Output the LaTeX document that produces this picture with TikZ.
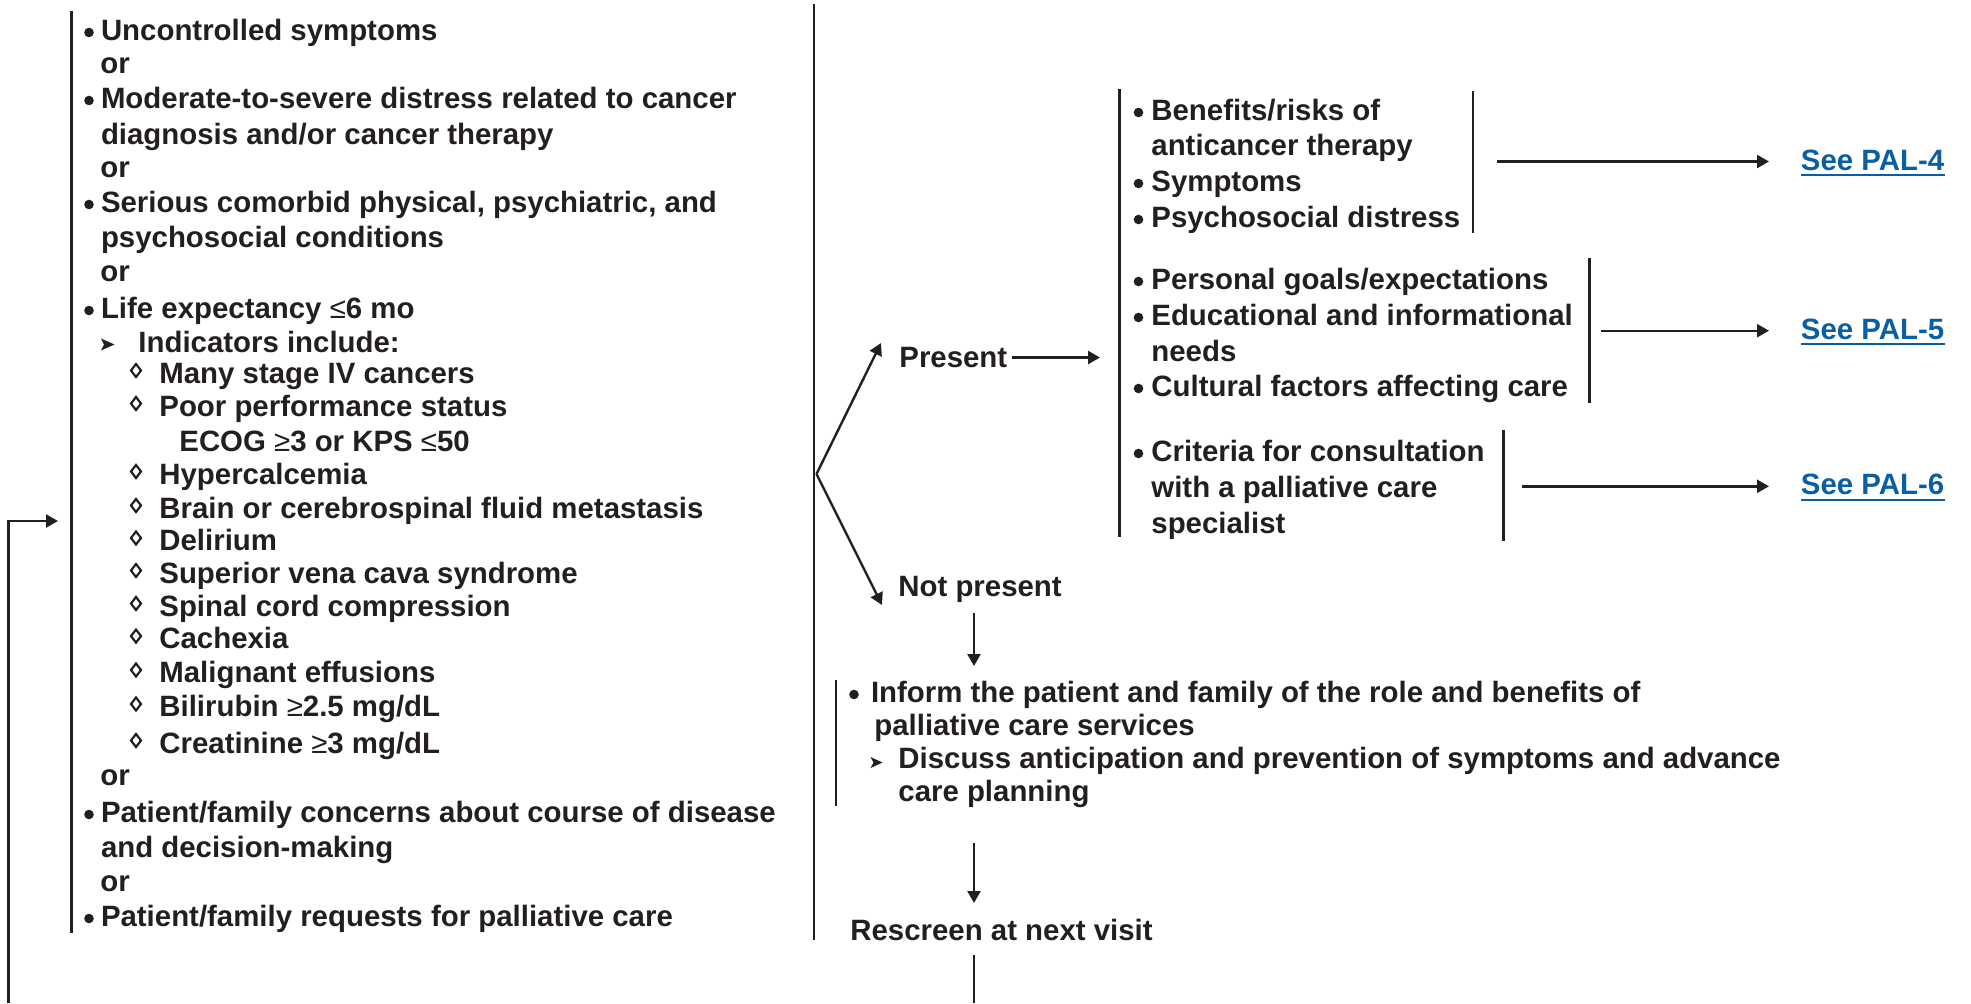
\documentclass[tikz,border=0pt]{standalone}
\usepackage{fontspec}
\setmainfont{Liberation Sans}
\usetikzlibrary{arrows.meta}
\definecolor{ink}{RGB}{35,31,32}
\definecolor{linkblue}{RGB}{10,94,162}
\newcommand\lte{{\mdseries ≤}}
\newcommand\gte{{\mdseries ≥}}
\newcommand\bul[2]{\fill[ink] (#1,#2-7.5) circle (2.4pt);}
\newcommand\dia[2]{\draw[ink,line width=1.1pt,line join=miter] (#1,#2-19) -- (#1+5,#2-12.5) -- (#1,#2-6) -- (#1-5,#2-12.5) -- cycle;}
\newcommand\tri[2]{\fill[ink] (#1,#2-13.5) -- (#1+13.5,#2-7.5) -- (#1,#2-1.5) -- (#1+3,#2-7.5) -- cycle;}
\begin{document}
\begin{tikzpicture}[x=0.5pt,y=-0.5pt,
  txt/.style={anchor=base west,inner sep=0pt,text=ink,font=\fontsize{14.7}{17}\selectfont\bfseries},
  lnk/.style={txt,text=linkblue},
  bar/.style={draw=ink,line width=1.2pt},
  arr/.style={draw=ink,line width=1.2pt,-{Triangle[length=6pt,width=6.5pt]}},
  uline/.style={draw=linkblue,line width=1pt}]
\useasboundingbox (0,0) rectangle (1971,1003);

% ---------- left criteria block ----------
\draw[bar] (71.5,11) -- (71.5,933);
\node[txt] (c1) at (100.6,40) {Uncontrolled symptoms}; \bul{89}{40}
\node[txt] (o1) at (100,73) {or};
\node[txt] (c2) at (100.6,108) {Moderate-to-severe distress related to cancer}; \bul{89}{108}
\node[txt] (c2b) at (100.6,144.5) {diagnosis and/or cancer therapy};
\node[txt] (o2) at (100,177) {or};
\node[txt] (c3) at (100.6,212) {Serious comorbid physical, psychiatric, and}; \bul{89}{212}
\node[txt] (c3b) at (100.6,247.6) {psychosocial conditions};
\node[txt] (o3) at (100,281.5) {or};
\node[txt] (c4) at (100.6,318) {Life expectancy \lte6 mo}; \bul{89}{318}
\node[txt] (ind) at (138,352) {Indicators include:}; \tri{101}{352}
\node[txt] (i1) at (159,383) {Many stage IV cancers}; \dia{136}{383}
\node[txt] (i2) at (159,416) {Poor performance status}; \dia{136}{416}
\node[txt] (i2b) at (179,451) {ECOG \gte3 or KPS \lte50};
\node[txt] (i3) at (159,484) {Hypercalcemia}; \dia{136}{484}
\node[txt] (i4) at (159,518) {Brain or cerebrospinal fluid metastasis}; \dia{136}{518}
\node[txt] (i5) at (159,550.5) {Delirium}; \dia{136}{550.5}
\node[txt] (i6) at (159,583) {Superior vena cava syndrome}; \dia{136}{583}
\node[txt] (i7) at (159,616) {Spinal cord compression}; \dia{136}{616}
\node[txt] (i8) at (159,648.6) {Cachexia}; \dia{136}{648.6}
\node[txt] (i9) at (159,682.5) {Malignant effusions}; \dia{136}{682.5}
\node[txt] (i10) at (159,716.5) {Bilirubin \gte2.5 mg/dL}; \dia{136}{716.5}
\node[txt] (i11) at (159,753) {Creatinine \gte3 mg/dL}; \dia{136}{753}
\node[txt] (o4) at (100,785.6) {or};
\node[txt] (c5) at (100.6,822) {Patient/family concerns about course of disease}; \bul{89}{822}
\node[txt] (c5b) at (100.6,857) {and decision-making};
\node[txt] (o5) at (100,891) {or};
\node[txt] (c6) at (100.6,926) {Patient/family requests for palliative care}; \bul{89}{926}

% ---------- loop back ----------
\coordinate (loopbot) at (8.5,1003);
\coordinate (loopin) at (58,521);
\draw[arr] (loopbot) |- (loopin);

% ---------- middle column ----------
\draw[bar] (814,4) -- (814,940);
\coordinate (br) at (816.5,474);
\coordinate (tipP) at (881,343);
\coordinate (tipN) at (882,605);
\draw[arr] (br) -- (tipP);
\draw[arr] (br) -- (tipN);
\node[txt] (present) at (899,367) {Present};
\node[txt] (notpresent) at (898,596) {Not present};

\coordinate (npA) at (974,613);
\coordinate (npB) at (974,666);
\draw[arr] (npA) -- (npB);

\draw[bar] (836,680) -- (836,806);
\node[txt] (inform) at (870.6,702) {Inform the patient and family of the role and benefits of}; \bul{854}{702}
\node[txt] (informb) at (874,735) {palliative care services};
\node[txt] (discuss) at (898,768) {Discuss anticipation and prevention of symptoms and advance};
\fill[ink] (870.5,757) -- (882.5,762.5) -- (870.5,768) -- (873.5,762.5) -- cycle;
\node[txt] (discussb) at (898,801) {care planning};

\coordinate (inA) at (974,843);
\coordinate (inB) at (974,903);
\draw[arr] (inA) -- (inB);
\node[txt] (rescreen) at (850,940) {Rescreen at next visit};
\coordinate (rsA) at (974,955);
\coordinate (rsB) at (974,1003);
\draw[bar] (rsA) -- (rsB);

% ---------- right column ----------
\coordinate (prA) at (1012,357.5);
\coordinate (prB) at (1100,357.5);
\draw[arr] (prA) -- (prB);
\draw[bar] (1119.5,89) -- (1119.5,537);

% group 1
\node[txt] (g1a) at (1151,120) {Benefits/risks of}; \bul{1138.5}{120}
\node[txt] (g1b) at (1151,155.5) {anticancer therapy};
\node[txt] (g1c) at (1151,191) {Symptoms}; \bul{1138.5}{191}
\node[txt] (g1d) at (1151,227) {Psychosocial distress}; \bul{1138.5}{227}
\draw[bar] (1473,91) -- (1473,233);
\coordinate (a1s) at (1497,161.5);
\coordinate (a1e) at (1769,161.5);
\draw[arr] (a1s) -- (a1e);
\node[lnk] (pal4) at (1800.5,170) {See PAL-4};
\draw[uline] ([yshift=-2.6pt]pal4.base west) -- ([yshift=-2.6pt]pal4.base east);

% group 2
\node[txt] (g2a) at (1151,289) {Personal goals/expectations}; \bul{1138.5}{289}
\node[txt] (g2b) at (1151,325) {Educational and informational}; \bul{1138.5}{325}
\node[txt] (g2c) at (1151,361) {needs};
\node[txt] (g2d) at (1151,396) {Cultural factors affecting care}; \bul{1138.5}{396}
\draw[bar] (1589.5,258) -- (1589.5,403);
\coordinate (a2s) at (1601,330.7);
\coordinate (a2e) at (1769,330.7);
\draw[arr] (a2s) -- (a2e);
\node[lnk] (pal5) at (1800.5,339) {See PAL-5};
\draw[uline] ([yshift=-2.6pt]pal5.base west) -- ([yshift=-2.6pt]pal5.base east);

% group 3
\node[txt] (g3a) at (1151,461) {Criteria for consultation}; \bul{1138.5}{461}
\node[txt] (g3b) at (1151,497) {with a palliative care};
\node[txt] (g3c) at (1151,533.5) {specialist};
\draw[bar] (1503.5,430) -- (1503.5,541);
\coordinate (a3s) at (1522,486.3);
\coordinate (a3e) at (1769,486.3);
\draw[arr] (a3s) -- (a3e);
\node[lnk] (pal6) at (1800.5,494.6) {See PAL-6};
\draw[uline] ([yshift=-2.6pt]pal6.base west) -- ([yshift=-2.6pt]pal6.base east);
\end{tikzpicture}
\end{document}
